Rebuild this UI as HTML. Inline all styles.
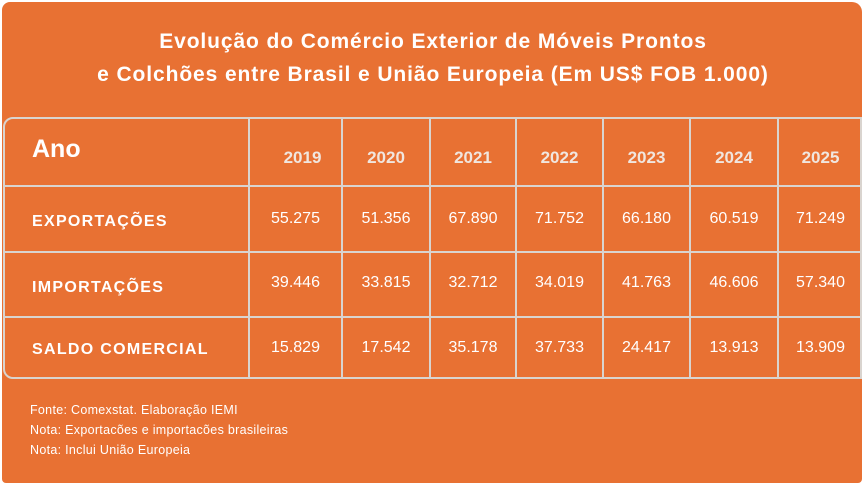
<!DOCTYPE html>
<html><head><meta charset="utf-8"><style>
*{margin:0;padding:0;box-sizing:border-box}
body{width:866px;height:487px;background:#fff;position:relative;overflow:hidden;font-family:"Liberation Sans",sans-serif;color:#fff}
.box{position:absolute;left:2px;top:2px;width:860px;height:481px;background:#E87133;border-radius:8px 10px 4px 4px}
.t{position:absolute;left:0;width:866px;text-align:center;font-weight:bold;font-size:21px;letter-spacing:0.9px;white-space:nowrap}
.tbl{position:absolute;left:3px;top:117px;width:859px;height:262px;border:2px solid #d9d4cf;border-top-left-radius:10px;border-bottom-left-radius:10px}
.v{position:absolute;background:#d9d4cf;width:2px;top:117px;height:262px}
.h{position:absolute;background:#d9d4cf;height:2px;left:3px;width:859px}
.c{position:absolute;text-align:center;font-size:16px;white-space:nowrap}
.y{font-weight:bold;color:#f0e6df;font-size:17px}
.lab{position:absolute;left:32px;font-weight:bold;font-size:16px;letter-spacing:1.3px}
.n{position:absolute;left:30px;font-size:12.5px;letter-spacing:0.3px}
</style></head><body>
<div class="box"></div>
<div class="t" style="top:30px">Evolução do Comércio Exterior de Móveis Prontos</div>
<div class="t" style="top:63px">e Colchões entre Brasil e União Europeia (Em US$ FOB 1.000)</div>
<div class="tbl"></div>
<div class="v" style="left:248px"></div><div class="v" style="left:341px"></div><div class="v" style="left:429px"></div><div class="v" style="left:515px"></div><div class="v" style="left:602px"></div><div class="v" style="left:689px"></div><div class="v" style="left:777px"></div>
<div class="h" style="top:185px"></div><div class="h" style="top:251px"></div><div class="h" style="top:316px"></div>
<div style="position:absolute;left:32px;top:135px;font-weight:bold;font-size:25px">Ano</div>
<div id="g"></div>
<div class="lab" style="top:213px">EXPORTAÇÕES</div>
<div class="lab" style="top:279px">IMPORTAÇÕES</div>
<div class="lab" style="top:341px">SALDO COMERCIAL</div>
<div class="n" style="top:403px">Fonte: Comexstat. Elaboração IEMI</div>
<div class="n" style="top:423px">Nota: Exportacões e importacões brasileiras</div>
<div class="n" style="top:443px">Nota: Inclui União Europeia</div>
<script>
var xs=[[250,341],[343,429],[431,515],[517,602],[604,689],[691,777],[779,862]];
var yrs=["2019","2020","2021","2022","2023","2024","2025"];
var rows=[["55.275","51.356","67.890","71.752","66.180","60.519","71.249"],["39.446","33.815","32.712","34.019","41.763","46.606","57.340"],["15.829","17.542","35.178","37.733","24.417","13.913","13.909"]];
var ty=[210,274,339];var h="";
for(var i=0;i<7;i++){var l=xs[i][0],w=xs[i][1]-l;var off=i==0?14:0;
h+='<div class="c y" style="left:'+(l+off)+'px;width:'+(w-off)+'px;top:148px">'+yrs[i]+'</div>';
for(var r=0;r<3;r++)h+='<div class="c" style="left:'+l+'px;width:'+w+'px;top:'+ty[r]+'px">'+rows[r][i]+'</div>';}
document.getElementById('g').innerHTML=h;
</script>
</body></html>
